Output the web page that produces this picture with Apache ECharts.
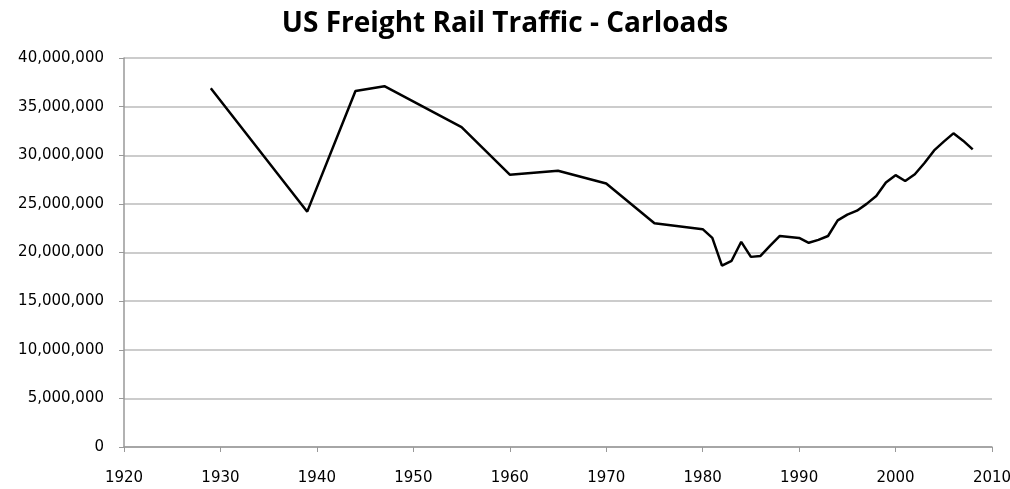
<!DOCTYPE html>
<html>
<head>
<meta charset="utf-8">
<script src="https://cdn.jsdelivr.net/npm/echarts@6/dist/echarts.min.js"></script>
<style>
    html, body { margin: 0; padding: 0; background: #fff; }
    #chartDiv { width: 1010px; height: 489px; }
</style>
</head>
<body>
<div id="chartDiv"></div>
<script>
    // years and carloads (millions)
    var years = [1929, 1939, 1944, 1947, 1955, 1960, 1965, 1970, 1975,
        1980, 1981, 1982, 1983, 1984, 1985, 1986, 1987, 1988, 1989,
        1990, 1991, 1992, 1993, 1994, 1995, 1996, 1997, 1998, 1999,
        2000, 2001, 2002, 2003, 2004, 2005, 2006, 2007, 2008];
    var carloads = [36.9, 24.2, 36.6, 37.1, 32.9, 28.0, 28.4, 27.1, 23.0,
        22.4, 21.5, 18.65, 19.15, 21.1, 19.55, 19.65, 20.7, 21.7, 21.6,
        21.5, 21.0, 21.3, 21.7, 23.3, 23.9, 24.3, 25.0, 25.8, 27.2,
        27.95, 27.35, 28.05, 29.2, 30.5, 31.4, 32.25, 31.5, 30.6];

    var points = [];
    for (var i = 0; i < years.length; i++) {
        points.push([years[i], carloads[i] * 1000000]);
    }

    var chart = echarts.init(document.getElementById('chartDiv'));
    chart.setOption({
        animation: false,
        title: {
            text: 'US Freight Rail Traffic - Carloads',
            left: 'center',
            top: 5,
            textStyle: { fontFamily: 'Open Sans', fontWeight: 'bold', fontSize: 28, color: '#000' }
        },
        grid: { left: 124, right: 18, top: 58, bottom: 42, outerBoundsMode: 'none' },
        xAxis: {
            type: 'value',
            min: 1920, max: 2010, interval: 10,
            axisLine: { lineStyle: { color: '#999', width: 1.5 } },
            axisTick: { show: true, length: 5, lineStyle: { color: '#999' } },
            splitLine: { show: false },
            axisLabel: {
                color: '#000', fontFamily: 'DejaVu Sans', fontSize: 15, margin: 24,
                formatter: function (v) { return String(v); }
            }
        },
        yAxis: {
            type: 'value',
            min: 0, max: 40000000, interval: 5000000,
            axisLine: { show: true, lineStyle: { color: '#999', width: 1.5 } },
            axisTick: { show: true, length: 5, lineStyle: { color: '#999' } },
            splitLine: { lineStyle: { color: '#bbb', width: 1.5 } },
            axisLabel: {
                color: '#000', fontFamily: 'DejaVu Sans', fontSize: 15, margin: 20,
                formatter: function (v) { return v.toLocaleString('en-US'); }
            }
        },
        series: [{
            type: 'line',
            data: points,
            symbol: 'none',
            lineStyle: { color: '#000', width: 2.5 }
        }]
    });
</script>
</body>
</html>
